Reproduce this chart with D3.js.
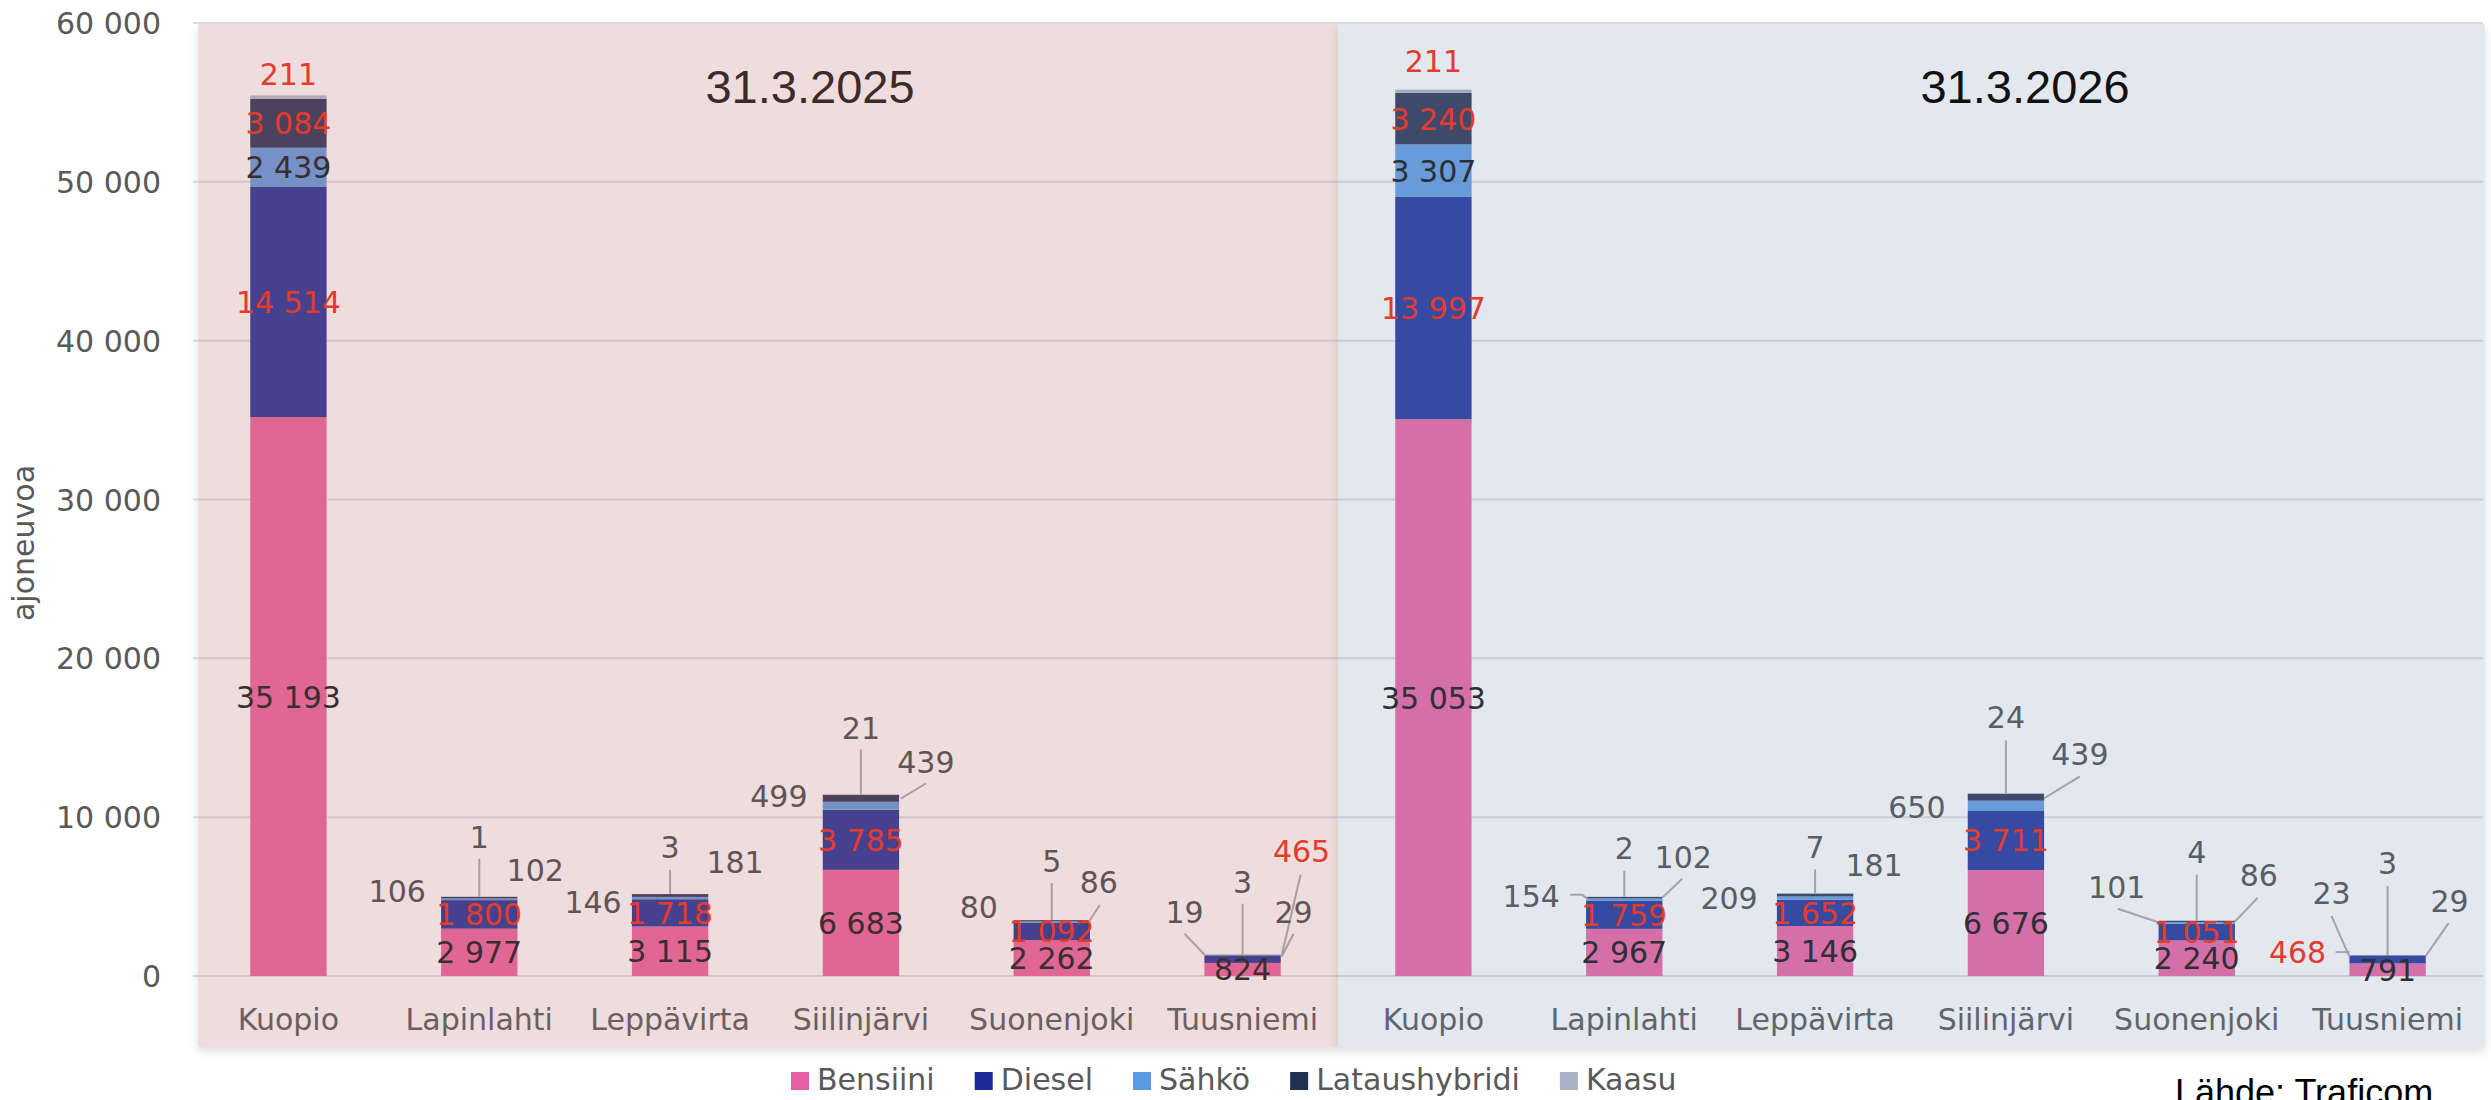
<!DOCTYPE html>
<html>
<head>
<meta charset="utf-8">
<script src="https://cdn.jsdelivr.net/npm/d3@7"></script>
<style>
  html, body { margin: 0; padding: 0; background: #ffffff; }
  svg { display: block; }
</style>
</head>
<body>
<svg id="chart" width="2491" height="1100"></svg>
<script>
// ---------------- DATA ----------------
const categories = ["Kuopio", "Lapinlahti", "Leppävirta", "Siilinjärvi", "Suonenjoki", "Tuusniemi"];
const periods = ["31.3.2025", "31.3.2026"];
const seriesNames = ["Bensiini", "Diesel", "Sähkö", "Lataushybridi", "Kaasu"];

const bensiini2025 = [35193, 2977, 3115, 6683, 2262, 824];
const diesel2025   = [14514, 1800, 1718, 3785, 1092, 465];
const sahko2025    = [2439, 106, 146, 499, 80, 19];
const lataus2025   = [3084, 102, 181, 439, 86, 29];
const kaasu2025    = [211, 1, 3, 21, 5, 3];

const bensiini2026 = [35053, 2967, 3146, 6676, 2240, 791];
const diesel2026   = [13997, 1759, 1652, 3711, 1051, 468];
const sahko2026    = [3307, 154, 209, 650, 101, 23];
const lataus2026   = [3240, 102, 181, 439, 86, 29];
const kaasu2026    = [211, 2, 7, 24, 4, 3];

const yTicks = [0, 10000, 20000, 30000, 40000, 50000, 60000];
const yAxisTitle = "ajoneuvoa";
const sourceText = "Lähde: Traficom";

// ---------------- STYLE ----------------
const legendColors = ["#E55FA5", "#1B2A98", "#5A9AE2", "#233054", "#AAB0C6"];
const barColors = [
  ["#E06794", "#46418E", "#7591C7", "#4B435E", "#B4A7B2"],
  ["#D46FA8", "#364AA2", "#689BD9", "#3F4A6B", "#A3ACC2"]
];
const bgColors = ["#EFDCDC", "#E3E7EE"];
const red = "#E43B2C";
const darkText = ["#3b2e31", "#2d3036"];
const grayText = ["#5f5557", "#595d65"];
const catText = ["#6a5f61", "#5f646d"];
const leaderColor = ["#a89ea0", "#a0a4ab"];
const FONT = "'DejaVu Sans', Verdana, sans-serif";
const FONT2 = "'Liberation Sans', Arial, sans-serif";

// ---------------- BUILD ----------------
const rows = [];
const byPeriod = [
  [bensiini2025, diesel2025, sahko2025, lataus2025, kaasu2025],
  [bensiini2026, diesel2026, sahko2026, lataus2026, kaasu2026]
];
periods.forEach((p, pi) => {
  categories.forEach((c, ci) => {
    const r = { key: pi + "|" + c, period: pi, cat: c };
    seriesNames.forEach((s, si) => { r[s] = byPeriod[pi][si][ci]; });
    rows.push(r);
  });
});

const svg = d3.select("#chart");
const W = 2491, H = 1100;
svg.append("rect").attr("width", W).attr("height", H).attr("fill", "#ffffff");

const x = d3.scaleBand().domain(rows.map(d => d.key)).range([193, 2483])
  .paddingInner(0.6).paddingOuter(0.3);
const y = d3.scaleLinear().domain([0, 60000]).range([976, 23]);

const fmt = d3.formatLocale({ decimal: ",", thousands: " ", grouping: [3], currency: ["", ""] }).format(",d");

// background panels
const defs = svg.append("defs");
const f = defs.append("filter").attr("id", "sh").attr("x", "-5%").attr("y", "-5%").attr("width", "110%").attr("height", "115%");
f.append("feDropShadow").attr("dx", 0).attr("dy", 5).attr("stdDeviation", 5).attr("flood-color", "#000").attr("flood-opacity", 0.12);

const stepW = x.step();
const firstX = x(rows[0].key) - (stepW - x.bandwidth()) / 2;
const splitX = x(rows[6].key) - (stepW - x.bandwidth()) / 2;
const lastX = x(rows[11].key) + x.bandwidth() + (stepW - x.bandwidth()) / 2;
const panels = [[firstX + 5, splitX], [splitX, lastX + 2]];
svg.append("g").selectAll("rect").data(panels).join("rect")
  .attr("x", d => d[0]).attr("y", 24)
  .attr("width", d => d[1] - d[0]).attr("height", 1047 - 24)
  .attr("fill", (d, i) => bgColors[i]).attr("filter", "url(#sh)");

// gridlines
svg.append("g").selectAll("line").data(yTicks).join("line")
  .attr("x1", 193).attr("x2", 2483)
  .attr("y1", d => y(d)).attr("y2", d => y(d))
  .attr("stroke", "rgb(154,154,166)").attr("stroke-opacity", 0.35).attr("stroke-width", 2);

// y tick labels
svg.append("g").selectAll("text").data(yTicks).join("text")
  .attr("x", 161).attr("y", d => y(d) + 11)
  .attr("text-anchor", "end").attr("font-family", FONT).attr("font-size", 30)
  .attr("fill", "#595959").text(d => fmt(d));

// y axis title
svg.append("text")
  .attr("transform", "translate(34,543) rotate(-90)")
  .attr("text-anchor", "middle").attr("font-family", FONT).attr("font-size", 30)
  .attr("fill", "#595959").text(yAxisTitle);

// stacked bars
const stack = d3.stack().keys(seriesNames);
const stacked = stack(rows);
const barG = svg.append("g");
stacked.forEach((layer, si) => {
  barG.append("g").selectAll("rect").data(layer).join("rect")
    .attr("x", d => x(d.data.key))
    .attr("width", x.bandwidth())
    .attr("y", d => y(d[1]))
    .attr("height", d => Math.max(0, y(d[0]) - y(d[1])))
    .attr("fill", d => barColors[d.data.period][si]);
});

// category labels
svg.append("g").selectAll("text").data(rows).join("text")
  .attr("x", d => x(d.key) + x.bandwidth() / 2).attr("y", 1030)
  .attr("text-anchor", "middle").attr("font-family", FONT).attr("font-size", 30)
  .attr("fill", d => catText[d.period]).text(d => d.cat);

// period titles
svg.append("g").selectAll("text").data(periods).join("text")
  .attr("x", (d, i) => i === 0 ? 810 : 2025).attr("y", 103)
  .attr("text-anchor", "middle").attr("font-family", FONT2).attr("font-size", 47)
  .attr("fill", (d, i) => i === 0 ? "#3d2b2b" : "#111111").text(d => d);

// data label layout (offsets relative to bar centre and bar top)
const callouts = {
  "0|Kuopio|Kaasu": { dx: 0, dy: -10 },
  "0|Lapinlahti|Sähkö": { dx: -82, dy: 5 },
  "0|Lapinlahti|Kaasu": { dx: 0, dy: -49, line: [[0, -38], [0, 0]] },
  "0|Lapinlahti|Lataushybridi": { dx: 56, dy: -16 },
  "0|Leppävirta|Sähkö": { dx: -77, dy: 19 },
  "0|Leppävirta|Kaasu": { dx: 0, dy: -36, line: [[0, -24], [0, 0]] },
  "0|Leppävirta|Lataushybridi": { dx: 65, dy: -21 },
  "0|Siilinjärvi|Sähkö": { dx: -82, dy: 12 },
  "0|Siilinjärvi|Kaasu": { dx: 0, dy: -56, line: [[0, -45], [0, 0]] },
  "0|Siilinjärvi|Lataushybridi": { dx: 65, dy: -22, line: [[65, -11], [40, 4]] },
  "0|Suonenjoki|Sähkö": { dx: -73, dy: -2 },
  "0|Suonenjoki|Kaasu": { dx: 0, dy: -48, line: [[0, -37], [0, 0]] },
  "0|Suonenjoki|Lataushybridi": { dx: 47, dy: -27, line: [[48, -15], [37, 2]] },
  "0|Tuusniemi|Diesel": { dx: 59, dy: -93, line: [[58, -80], [39, 1]] },
  "0|Tuusniemi|Sähkö": { dx: -58, dy: -32, line: [[-58, -21], [-38, 0]] },
  "0|Tuusniemi|Kaasu": { dx: 0, dy: -62, line: [[0, -51], [0, 0]] },
  "0|Tuusniemi|Lataushybridi": { dx: 51, dy: -32, line: [[51, -21], [39, 2]] },
  "1|Kuopio|Kaasu": { dx: 0, dy: -18 },
  "1|Lapinlahti|Sähkö": { dx: -93, dy: 10, line: [[-54, -2], [-42, -2], [-36, 3]] },
  "1|Lapinlahti|Kaasu": { dx: 0, dy: -38, line: [[0, -26], [0, 0]] },
  "1|Lapinlahti|Lataushybridi": { dx: 59, dy: -29, line: [[58, -18], [38, 1]] },
  "1|Leppävirta|Sähkö": { dx: -86, dy: 16 },
  "1|Leppävirta|Kaasu": { dx: 0, dy: -35, line: [[0, -24], [0, 0]] },
  "1|Leppävirta|Lataushybridi": { dx: 59, dy: -17 },
  "1|Siilinjärvi|Sähkö": { dx: -89, dy: 25 },
  "1|Siilinjärvi|Kaasu": { dx: 0, dy: -65, line: [[0, -53], [0, 0]] },
  "1|Siilinjärvi|Lataushybridi": { dx: 74, dy: -28, line: [[74, -17], [38, 5]] },
  "1|Suonenjoki|Sähkö": { dx: -80, dy: -23, line: [[-79, -12], [-37, 2]] },
  "1|Suonenjoki|Kaasu": { dx: 0, dy: -58, line: [[0, -46], [0, 0]] },
  "1|Suonenjoki|Lataushybridi": { dx: 62, dy: -35, line: [[61, -23], [38, 1]] },
  "1|Tuusniemi|Diesel": { dx: -90, dy: 8, line: [[-52, -3], [-38, -3]] },
  "1|Tuusniemi|Sähkö": { dx: -56, dy: -51, line: [[-56, -39], [-38, 2]] },
  "1|Tuusniemi|Kaasu": { dx: 0, dy: -81, line: [[0, -69], [0, 0]] },
  "1|Tuusniemi|Lataushybridi": { dx: 62, dy: -43, line: [[61, -32], [38, 1]] }
};

const labels = [];
stacked.forEach((layer, si) => {
  const s = seriesNames[si];
  layer.forEach(d => {
    const r = d.data;
    const cx = x(r.key) + x.bandwidth() / 2;
    const top = y(d3.sum(seriesNames, k => r[k]));
    const co = callouts[r.key + "|" + s];
    let color;
    if (s === "Diesel") color = red;
    else if (s === "Bensiini") color = darkText[r.period];
    else if (r.cat === "Kuopio") color = (s === "Sähkö") ? darkText[r.period] : red;
    else color = grayText[r.period];
    if (co) {
      labels.push({ x: cx + co.dx, y: top + co.dy, text: fmt(r[s]), color,
        line: co.line ? co.line.map(p => [cx + p[0], top + p[1]]) : null, period: r.period });
    } else {
      labels.push({ x: cx, y: (y(d[0]) + y(d[1])) / 2 + 11, text: fmt(r[s]), color, line: null, period: r.period });
    }
  });
});

svg.append("g").selectAll("path").data(labels.filter(l => l.line)).join("path")
  .attr("d", l => d3.line()(l.line))
  .attr("fill", "none").attr("stroke", l => leaderColor[l.period]).attr("stroke-width", 2);

svg.append("g").selectAll("text").data(labels).join("text")
  .attr("x", l => l.x).attr("y", l => l.y)
  .attr("text-anchor", "middle").attr("font-family", FONT).attr("font-size", 30)
  .attr("fill", l => l.color).text(l => l.text);

// legend
const leg = svg.append("g");
let lx = 791;
seriesNames.forEach((s, i) => {
  leg.append("rect").attr("x", lx).attr("y", 1072).attr("width", 18).attr("height", 18).attr("fill", legendColors[i]);
  const t = leg.append("text").attr("x", lx + 26).attr("y", 1090)
    .attr("font-family", FONT).attr("font-size", 30).attr("fill", "#595959").text(s);
  lx += 26 + t.node().getComputedTextLength() + 40;
});

// source
svg.append("text").attr("x", 2175).attr("y", 1105)
  .attr("font-family", FONT2).attr("font-size", 36).attr("fill", "#000000").text(sourceText);
</script>
</body>
</html>
